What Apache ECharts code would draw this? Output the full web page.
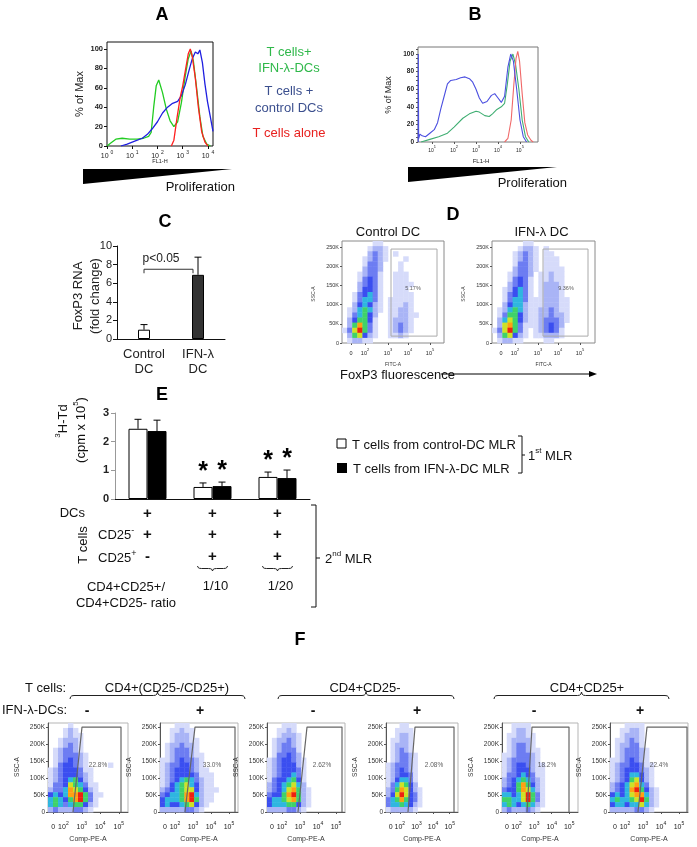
<!DOCTYPE html>
<html><head><meta charset="utf-8"><title>Figure</title>
<script src="https://cdn.jsdelivr.net/npm/echarts@6.0.0/dist/echarts.min.js"></script>
<style>html,body{margin:0;padding:0;background:#fff;}#chart{width:697px;height:847px;}</style>
</head><body><div id="chart"></div>
<script>
// ================= DATA =================
// Panel A: proliferation histograms (x = log10 FL1-H, y = % of max)
const aGreen = [[0,0],[0.15,3],[0.35,7],[0.6,8],[0.9,7],[1.2,7],[1.45,8],[1.65,10],[1.75,14],[1.85,40],[1.95,62],[2.05,68],[2.12,67],[2.2,55],[2.35,38],[2.5,26],[2.65,20],[2.8,25],[2.95,45],[3.1,72],[3.22,90],[3.33,98],[3.42,88],[3.55,60],[3.68,30],[3.8,10],[3.95,2],[4.1,0]];
const aBlue = [[0.55,0],[0.8,2],[1.1,5],[1.4,8],[1.6,12],[1.8,18],[2.0,25],[2.2,34],[2.4,40],[2.6,44],[2.8,46],[2.95,52],[3.1,63],[3.25,78],[3.38,90],[3.5,97],[3.6,95],[3.68,99],[3.78,86],[3.88,64],[3.98,46],[4.08,32],[4.2,15]];
const aRed = [[2.55,0],[2.65,6],[2.78,30],[2.9,50],[3.0,62],[3.12,80],[3.22,95],[3.3,100],[3.38,92],[3.5,70],[3.62,40],[3.75,15],[3.88,4],[4.0,0]];
const aXTicks = [0,1,2,3,4];
const aYTicks = [0,20,40,60,80,100];
const aLegend = [['T cells+','IFN-λ-DCs'],['T cells +','control DCs'],['T cells alone']];

// Panel B histograms
const bBlue = [[0.37,0],[0.375,100],[0.39,4],[0.45,9],[0.55,7],[0.7,6],[0.9,10],[1.1,14],[1.25,22],[1.4,38],[1.55,52],[1.7,66],[1.85,70],[2.1,71],[2.3,73],[2.5,74],[2.7,72],[2.85,68],[3.0,60],[3.15,50],[3.3,44],[3.5,46],[3.7,53],[3.85,55],[4.0,50],[4.15,45],[4.3,52],[4.45,85],[4.58,100],[4.7,92],[4.85,60],[5.0,25],[5.15,6],[5.3,0]];
const bGreen = [[0.5,0],[0.9,3],[1.3,6],[1.7,10],[2.0,17],[2.4,27],[2.7,32],[3.0,35],[3.15,34],[3.4,30],[3.6,29],[3.75,32],[3.95,37],[4.15,40],[4.3,44],[4.42,65],[4.55,92],[4.68,100],[4.8,88],[4.95,60],[5.1,25],[5.25,6],[5.4,0]];
const bRed = [[4.3,0],[4.45,4],[4.6,25],[4.72,65],[4.82,95],[4.9,103],[4.98,92],[5.1,55],[5.22,22],[5.35,8],[5.5,2],[5.6,0]];
const bXTicks = [1,2,3,4,5];
const bYTicks = [0,20,40,60,80,100];

// Panel C: FoxP3 RNA fold change
const cCats = ['Control\nDC','IFN-λ\nDC'];
const cMean = [1.0, 6.9];
const cErr = [0.55, 1.9];
const cPLevel = 7.5;
const cPText = 'p<0.05';

// Panel D: FoxP3 flow plots (density levels 0-9, top row first; x = display units, y = SSC)
const dTitles = ['Control DC','IFN-λ DC'];
const dPct = ['5.17%','9.36%'];
const dPctPos = [[71,142000],[74,142000]];
const dGate = [[49,18000,95,245000],[51,18000,96,245000]];
const dXLabelPos = [9,23,46,66,88];
const dYTicks = [0,50000,100000,150000,200000,250000];
const dGrid1 = [
"00000011000000000000",
"00000122100000000000",
"00000232101000000000",
"00001232100010000000",
"00001332000100000000",
"00002332000100000000",
"00012331001110000000",
"00013431001110000000",
"00023431001111000000",
"00024431001110000000",
"00134531001111000000",
"00135531011111000000",
"00245421011121000000",
"01256521011221000000",
"01356420011221100000",
"02466410012221000000",
"02686310012321000000",
"13796310012321000000",
"02674210011210000000",
"01221100000000000000"];
const dGrid2 = [
"00000011000000000000",
"00000122101000000000",
"00001232101100000000",
"00001232101110000000",
"00001332101110000000",
"00002332101111000000",
"00012332011211000000",
"00013431011211000000",
"00023431012221000000",
"00124531012221000000",
"00134531012221000000",
"00135531112221100000",
"00245521112221100000",
"01256521122321100000",
"01366421122322100000",
"02576421123332100000",
"02786311123432000000",
"13796310123431000000",
"02674210112221000000",
"01221100001100000000"];

// Panel E: 3H-thymidine incorporation
const eGroups = ['DC+CD25-','DC+CD25-+CD25+ (1/10)','DC+CD25-+CD25+ (1/20)'];
const eCtrl = [2.45, 0.42, 0.77];
const eCtrlErr = [0.33, 0.14, 0.17];
const eIfn = [2.37, 0.45, 0.73];
const eIfnErr = [0.38, 0.14, 0.28];
const eStar = [0, 1, 1];
const eRowDCs = ['+','+','+'];
const eRowNeg = ['+','+','+'];
const eRowPos = ['-','+','+'];
const eRatio = ['','1/10','1/20'];
const eLegend = ['T cells from control-DC MLR','T cells from IFN-λ-DC MLR'];

// Panel F: CD25 flow plots
const fGroups = ['CD4+(CD25-/CD25+)','CD4+CD25-','CD4+CD25+'];
const fDC = ['-','+','-','+','-','+'];
const fPct = ['22.8%','33.0%','2.62%','2.08%','18.2%','22.4%'];
const fPctX = [50,52,55,48,45,49];
const fPctY = 138000;
const fGate = [[25,34,73],[25,35,75],[31,40,75],[22,29,68],[25,30,67],[28,37,77]]; // [bottom-left, top-left, right]
const fGateTop = 250000;
const fXLabelPos = [5,15,33,51,69];
const fYTicks = [0,50000,100000,150000,200000,250000];
const fGrids = [
["0000100000000000","0001210000000000","0001211000000000","0012221000000000","0012321000000000","0123321000000000","0123332100000000","0123432100000000","0134432100001000","1234443110000000","1234443210000000","1234564210000000","1334765311000000","2335876421000000","4545889631100000","5654689631000000","5653566421000000","2322233210000000"],
["0001110000000000","0011211000000000","0012221000000000","0012221100000000","0122322100000000","0123332100000000","0123332110000000","1123433210000000","1233443210000000","1234443211000000","1234444311100000","1234565321100000","1245675421100000","2345677421110000","3455689521100000","4555689621100000","4544567421000000","2222233210000000"],
["0001110000000000","0011210000000000","0012221000000000","0122321000000000","0123321000000000","0123331000000000","0133432000000000","1234432100000000","1234442100000000","1234443100000000","1234453100000000","1344564100000000","2345675200000000","2345786210000000","3446896210000000","4556786210000000","4555664210000000","2222332100000000"],
["0001100000000000","0011110000000000","0012210000000000","0112210000000000","0122210000000000","0123210000000000","0123321000000000","0123321000000000","1233321000000000","1234321000000000","1234431000000000","1245531000000000","1357642000000000","2368742100000000","2479743100000000","3568643100000000","3556542100000000","1222221000000000"],
["0011110000000000","0012210000000000","0112211000000000","0122221000000000","0123321000000000","0123321100000000","1123332100000000","1233332100000000","1234432110000000","1234442110000000","1334543110000000","2345653210000000","2346864210000000","3446875210000000","5545796310000000","6655796310000000","5654565210000000","2322232100000000"],
["0001111000000000","0011221000000000","0012221000000000","0112321000000000","0122331000000000","0123332100000000","0123332100000000","1123432100000000","1233443110000000","1234443210000000","1234554210000000","1234674210000000","2345785310000000","2345896421000000","4545788521000000","5655679621000000","4554557521000000","2222233210000000"]
];

// ================= LAYOUT / STYLE =================
const FONT = '"Liberation Sans", Arial, Helvetica, sans-serif';
const PAL = ['rgba(0,0,0,0)','#d6dbfa','#a9b4f6','#6d7df2','#3a4ef0','#2fb6e0','#3fd26a','#cde226','#ffa012','#ee2010'];
const grid = [], xAxis = [], yAxis = [], series = [];
function addGrid(g, xa, ya){
  const i = grid.length;
  grid.push(Object.assign({containLabel:false, show:false}, g));
  xAxis.push(Object.assign({gridIndex:i, splitLine:{show:false}}, xa));
  yAxis.push(Object.assign({gridIndex:i, splitLine:{show:false}}, ya));
  return i;
}
function supRich(b, s){
  return {
    b:{fontSize:b, fontFamily:FONT, color:'#222', lineHeight:b+3, verticalAlign:'bottom'},
    s:{fontSize:s, fontFamily:FONT, color:'#222', lineHeight:s+1, verticalAlign:'top'}
  };
}
function cellData(rows, W, H){
  const nr = rows.length, nc = rows[0].length, out = [];
  rows.forEach((row, i) => {
    const r = nr - 1 - i;
    for (let c = 0; c < nc; c++){
      const l = +row[c];
      if (l > 0) out.push([c*W/nc, r*H/nr, (c+1)*W/nc, (r+1)*H/nr, l]);
    }
  });
  return out;
}
function cellRender(params, api){
  const a = api.coord([api.value(0), api.value(1)]);
  const b = api.coord([api.value(2), api.value(3)]);
  return {type:'rect', shape:{x:a[0], y:b[1], width:b[0]-a[0]+0.4, height:a[1]-b[1]+0.4}, style:{fill:PAL[api.value(4)]}};
}
function errRender(offset){
  return function(params, api){
    const i = api.value(0), m = api.value(1), e = api.value(2), st = api.value(3);
    const b = api.coord([i, m]), t = api.coord([i, m+e]);
    const x = b[0] + offset;
    const ch = [
      {type:'line', shape:{x1:x, y1:b[1], x2:x, y2:t[1]}, style:{stroke:'#000', lineWidth:1}},
      {type:'line', shape:{x1:x-3.5, y1:t[1], x2:x+3.5, y2:t[1]}, style:{stroke:'#000', lineWidth:1}}
    ];
    if (st) ch.push({type:'text', x:x, y:t[1]-11, style:{text:'*', font:'bold 25px '+FONT, fill:'#000', align:'center', verticalAlign:'middle'}});
    return {type:'group', children:ch};
  };
}
function flowXFormatter(pos){
  return v => {
    const k = pos.findIndex(p => Math.abs(p - v) < 1e-6);
    if (k < 0) return '';
    return k === 0 ? '{b|0}' : '{b|10}{s|' + (k+1) + '}';
  };
}
const kFmt = v => v === 0 ? '0' : (v/1000) + 'K';

// ----- Panel A -----
const gA = addGrid({left:107, top:42, width:106, height:104, show:true, borderColor:'#111', borderWidth:1},
  {type:'value', min:0, max:4.2, axisLine:{show:false},
   axisTick:{show:true, customValues:aXTicks, length:3, lineStyle:{color:'#111'}},
   axisLabel:{customValues:aXTicks, margin:4, formatter:v => '{b|10 }{s|' + v + '}', rich:supRich(7,5)}},
  {type:'value', min:0, max:107.2, axisLine:{show:false},
   axisTick:{show:true, customValues:aYTicks, length:3, lineStyle:{color:'#111'}},
   axisLabel:{customValues:aYTicks, margin:4, fontSize:7.5, fontWeight:'bold', color:'#222', fontFamily:FONT}});
[['#22cc22',aGreen],['#1f1fe0',aBlue],['#ff1f1f',aRed]].forEach(([c,d]) => series.push({
  type:'line', xAxisIndex:gA, yAxisIndex:gA, data:d, showSymbol:false, symbol:'none', lineStyle:{color:c, width:1.3}, z:3}));

// ----- Panel B -----
const gB = addGrid({left:418, top:47, width:120, height:95, show:true, borderColor:'#777', borderWidth:1},
  {type:'value', min:0.36, max:5.82, axisLine:{show:false},
   axisTick:{show:true, customValues:bXTicks, length:2, lineStyle:{color:'#555'}},
   axisLabel:{customValues:bXTicks, margin:3, formatter:v => '{b|10}{s|' + v + '}', rich:supRich(5,4)}},
  {type:'value', min:0, max:108, axisLine:{show:false},
   axisTick:{show:true, customValues:[0,5,10,15,20,25,30,35,40,45,50,55,60,65,70,75,80,85,90,95,100,105], length:2, lineStyle:{color:'#555'}},
   axisLabel:{customValues:bYTicks, margin:4, fontSize:6.5, fontWeight:'bold', color:'#222', fontFamily:FONT}});
[['#3fae72',bGreen],['#f06868',bRed],['#4b4fe0',bBlue]].forEach(([c,d]) => series.push({
  type:'line', xAxisIndex:gB, yAxisIndex:gB, data:d, showSymbol:false, symbol:'none', lineStyle:{color:c, width:1.1}, z:3}));

// ----- Panel C -----
const gC = addGrid({left:117, top:246, width:108, height:93},
  {type:'category', data:cCats, axisLine:{show:true, lineStyle:{color:'#111', width:1}}, axisTick:{show:false},
   axisLabel:{interval:0, fontSize:13, lineHeight:15, margin:8, color:'#222', fontFamily:FONT}},
  {type:'value', min:0, max:10, interval:2, axisLine:{show:true, lineStyle:{color:'#111', width:1}},
   axisTick:{show:true, length:4, lineStyle:{color:'#111'}},
   axisLabel:{fontSize:11, margin:5, color:'#222', fontFamily:FONT}});
series.push({type:'bar', xAxisIndex:gC, yAxisIndex:gC, barWidth:12,
  data:cMean.map((v,i) => ({value:v, itemStyle:{color: i===0 ? '#ffffff' : '#333333', borderColor:'#000', borderWidth:1}})), z:2});
series.push({type:'custom', xAxisIndex:gC, yAxisIndex:gC, renderItem:errRender(0),
  data:cMean.map((v,i) => [i, v, cErr[i], 0]), encode:{x:0, y:1}, z:3});

// ----- Panel D -----
const dLeft = [342, 492], dW = [102, 103], dYMax = 266000;
[dGrid1, dGrid2].forEach((rows, k) => {
  const W = dW[k];
  const g = addGrid({left:dLeft[k], top:241, width:W, height:102, show:true, borderColor:'#8a8a8a', borderWidth:1},
    {type:'value', min:0, max:W, axisLine:{show:false},
     axisTick:{show:true, customValues:dXLabelPos, length:2, lineStyle:{color:'#555'}},
     axisLabel:{customValues:dXLabelPos, margin:5, formatter:flowXFormatter(dXLabelPos), rich:supRich(5.5,4)}},
    {type:'value', min:0, max:dYMax, axisLine:{show:false},
     axisTick:{show:true, customValues:dYTicks, length:2, lineStyle:{color:'#555'}},
     axisLabel:{customValues:dYTicks, margin:3, fontSize:5.5, color:'#333', fontFamily:FONT, formatter:kFmt}});
  series.push({type:'custom', xAxisIndex:g, yAxisIndex:g, renderItem:cellRender, data:cellData(rows, W, dYMax),
    encode:{x:[0,2], y:[1,3]}, silent:true, z:2});
  const gt = dGate[k];
  series.push({type:'line', xAxisIndex:g, yAxisIndex:g, symbol:'none', showSymbol:false,
    data:[[gt[0],gt[1]],[gt[2],gt[1]],[gt[2],gt[3]],[gt[0],gt[3]],[gt[0],gt[1]]],
    lineStyle:{color:'#aaaaaa', width:1}, z:4});
  series.push({type:'scatter', xAxisIndex:g, yAxisIndex:g, symbolSize:1, itemStyle:{color:'rgba(0,0,0,0)'},
    data:[dPctPos[k]], label:{show:true, position:'inside', formatter:() => dPct[k], fontSize:5.5, color:'#333', fontFamily:FONT}, z:5});
});

// ----- Panel E -----
const gE = addGrid({left:115, top:413, width:195, height:86},
  {type:'category', data:eGroups, axisLine:{show:true, lineStyle:{color:'#111', width:1}}, axisTick:{show:false}, axisLabel:{show:false}},
  {type:'value', min:0, max:3, interval:1, axisLine:{show:true, lineStyle:{color:'#999', width:1}},
   axisTick:{show:true, length:4, lineStyle:{color:'#999'}},
   axisLabel:{fontSize:11, fontWeight:'bold', margin:6, color:'#222', fontFamily:FONT}});
series.push({type:'bar', xAxisIndex:gE, yAxisIndex:gE, barWidth:19, barGap:'0%', data:eCtrl,
  itemStyle:{color:'#ffffff', borderColor:'#000', borderWidth:1}, z:2});
series.push({type:'bar', xAxisIndex:gE, yAxisIndex:gE, barWidth:19, barGap:'0%', data:eIfn,
  itemStyle:{color:'#000000', borderColor:'#000', borderWidth:1}, z:2});
series.push({type:'custom', xAxisIndex:gE, yAxisIndex:gE, renderItem:errRender(-9.5),
  data:eCtrl.map((v,i) => [i, v, eCtrlErr[i], eStar[i]]), encode:{x:0, y:1}, z:3});
series.push({type:'custom', xAxisIndex:gE, yAxisIndex:gE, renderItem:errRender(9.5),
  data:eIfn.map((v,i) => [i, v, eIfnErr[i], eStar[i]]), encode:{x:0, y:1}, z:3});

// ----- Panel F -----
const fLeft = [48,160,267,386,502,610], fW = [80,78,78,72,76,78], fYMax = 262000;
fGrids.forEach((rows, k) => {
  const W = fW[k], sc = W/78;
  const lp = fXLabelPos.map(p => +(p*sc).toFixed(2));
  const g = addGrid({left:fLeft[k], top:723, width:W, height:89, show:true, borderColor:'#b5b5b5', borderWidth:1},
    {type:'value', min:0, max:W, axisLine:{show:true, lineStyle:{color:'#555', width:1}},
     axisTick:{show:true, customValues:lp, length:2, lineStyle:{color:'#555'}},
     axisLabel:{customValues:lp, margin:9, formatter:flowXFormatter(lp), rich:supRich(7,5)}},
    {type:'value', min:0, max:fYMax, axisLine:{show:true, lineStyle:{color:'#555', width:1}},
     axisTick:{show:true, customValues:fYTicks, length:2, lineStyle:{color:'#555'}},
     axisLabel:{customValues:fYTicks, margin:3, fontSize:6.5, color:'#333', fontFamily:FONT, formatter:kFmt}});
  series.push({type:'custom', xAxisIndex:g, yAxisIndex:g, renderItem:cellRender, data:cellData(rows, W, fYMax),
    encode:{x:[0,2], y:[1,3]}, silent:true, z:2});
  const gt = fGate[k];
  series.push({type:'line', xAxisIndex:g, yAxisIndex:g, symbol:'none', showSymbol:false,
    data:[[gt[0],0],[gt[1],fGateTop],[gt[2],fGateTop],[gt[2],0]],
    lineStyle:{color:'#666666', width:1.2}, z:4});
  series.push({type:'scatter', xAxisIndex:g, yAxisIndex:g, symbolSize:1, itemStyle:{color:'rgba(0,0,0,0)'},
    data:[[fPctX[k], fPctY]], label:{show:true, position:'inside', formatter:() => fPct[k], fontSize:6.5, color:'#333', fontFamily:FONT}, z:5});
});

// ================= RENDER =================
const chart = echarts.init(document.getElementById('chart'), null, {renderer:'canvas'});
chart.setOption({backgroundColor:'#ffffff', animation:false, grid, xAxis, yAxis, series});

const G = [];
function txt(x, y, text, o){
  o = o || {};
  const st = {text, fill:o.color || '#111', font:(o.weight || 'normal') + ' ' + (o.size || 13) + 'px ' + FONT,
    align:o.align || 'center', verticalAlign:'middle'};
  if (o.rich) st.rich = o.rich;
  G.push({type:'text', x, y, rotation:o.rot || 0, z:100, style:st});
}
function richS(b, s, color){
  color = color || '#111';
  return {b:{fontSize:b, fontFamily:FONT, fill:color, lineHeight:b+3, verticalAlign:'bottom'},
          s:{fontSize:s, fontFamily:FONT, fill:color, lineHeight:s+1, verticalAlign:'top'}};
}
function pl(points, o){
  o = o || {};
  G.push({type:'polyline', z:100, shape:{points}, style:{stroke:o.stroke || '#222', fill:null, lineWidth:o.lw || 1}});
}
function brace(x0, x1, y, dir, h){
  const xc = (x0 + x1)/2, a = h*dir;
  pl([[x0,y],[x0+0.6,y+a*0.6],[x0+1.8,y+a*0.9],[x0+4,y+a],[xc-4,y+a],[xc-1.8,y+a*1.1],[xc-0.6,y+a*1.4],[xc,y+2*a],
      [xc+0.6,y+a*1.4],[xc+1.8,y+a*1.1],[xc+4,y+a],[x1-4,y+a],[x1-1.8,y+a*0.9],[x1-0.6,y+a*0.6],[x1,y]]);
}
const R90 = Math.PI/2;

// Panel letters
[['A',162,15],['B',475,15],['C',165,222],['D',453,215],['E',162,395],['F',300,640]].forEach(([t,x,y]) => txt(x, y, t, {weight:'bold', size:18, color:'#000'}));

// Panel A extras
const aCol = ['#2fb84a','#3b4f8e','#e8211f'];
txt(289, 52, aLegend[0][0], {color:aCol[0]}); txt(289, 68, aLegend[0][1], {color:aCol[0]});
txt(289, 91, aLegend[1][0], {color:aCol[1]}); txt(289, 108, aLegend[1][1], {color:aCol[1]});
txt(289, 133, aLegend[2][0], {color:aCol[2]});
txt(80, 94, '% of Max', {rot:R90, size:11, color:'#222'});
txt(160, 161, 'FL1-H', {size:5.5, color:'#222'});
G.push({type:'polygon', z:100, shape:{points:[[83,169],[232,169],[83,184]]}, style:{fill:'#000'}});
txt(235, 187, 'Proliferation', {align:'right', color:'#111'});

// Panel B extras
txt(389, 95, '% of Max', {rot:R90, size:9, color:'#222'});
txt(481, 161, 'FL1-H', {size:6, color:'#222'});
G.push({type:'polygon', z:100, shape:{points:[[408,167],[557,167],[408,182]]}, style:{fill:'#000'}});
txt(567, 183, 'Proliferation', {align:'right', color:'#111'});

// Panel C extras
txt(78, 296, 'FoxP3 RNA', {rot:R90, size:13, color:'#222'});
txt(95, 296, '(fold change)', {rot:R90, size:13, color:'#222'});
const pL = chart.convertToPixel({gridIndex:gC}, [0, cPLevel]);
const pR = chart.convertToPixel({gridIndex:gC}, [1, cPLevel]);
const bl = pL[0], br = pR[0] - 5, by = pL[1];
pl([[bl,by+4],[bl,by],[br,by],[br,by+4]], {stroke:'#333'});
txt(bl + 17, by - 11, cPText, {size:12, color:'#222'});

// Panel D extras
dTitles.forEach((t,k) => {
  const cx = dLeft[k] + dW[k]/2;
  txt(cx - 5 + k*3, 232, t, {size:13, color:'#111'});
  txt(dLeft[k] - 28, 294, 'SSC-A', {rot:R90, size:5, color:'#333'});
  txt(cx, 365, 'FITC-A', {size:5, color:'#333'});
});
txt(340, 375, 'FoxP3 fluorescence', {align:'left', size:13, color:'#111'});
G.push({type:'line', z:100, shape:{x1:441, y1:374, x2:592, y2:374}, style:{stroke:'#000', lineWidth:1}});
G.push({type:'polygon', z:100, shape:{points:[[597,374],[589,371],[589,377]]}, style:{fill:'#000'}});

// Panel E extras
txt(62, 421, '{s|3}{b|H-Td}', {rot:R90, rich:richS(13,8)});
txt(80, 430, '{b|(cpm x 10}{s|5}{b|)}', {rot:R90, rich:richS(13,8)});
const ex = eGroups.map((_, i) => chart.convertToPixel({xAxisIndex:gE}, i));
txt(85, 513, 'DCs', {align:'right', size:13});
txt(98, 534, '{b|CD25}{s|-}', {align:'left', rich:richS(13,9)});
txt(98, 557, '{b|CD25}{s|+}', {align:'left', rich:richS(13,9)});
txt(83, 545, 'T cells', {rot:R90, size:13});
ex.forEach((x, i) => {
  txt(x, 514, eRowDCs[i], {weight:'bold', size:15});
  txt(x, 535, eRowNeg[i], {weight:'bold', size:15});
  txt(x, 557, eRowPos[i], {weight:'bold', size:15});
  if (eRatio[i]) { brace(x - 15, x + 15, 566, 1, 2.5); txt(x + 3, 586, eRatio[i], {size:13}); }
});
txt(126, 587, 'CD4+CD25+/', {size:13});
txt(126, 603, 'CD4+CD25- ratio', {size:13});
pl([[311,505],[316,505],[316,607],[311,607]], {stroke:'#111'});
pl([[316,558],[320,558]], {stroke:'#111'});
txt(325, 558, '{b|2}{s|nd}{b| MLR}', {align:'left', rich:richS(13,8)});
G.push({type:'rect', z:100, shape:{x:337, y:439, width:9, height:9}, style:{fill:'#fff', stroke:'#000', lineWidth:1}});
G.push({type:'rect', z:100, shape:{x:337, y:463, width:10, height:10}, style:{fill:'#000'}});
txt(352, 445, eLegend[0], {align:'left', size:13});
txt(353, 469, eLegend[1], {align:'left', size:13});
pl([[518,436],[522,436],[522,473],[518,473]], {stroke:'#111'});
pl([[522,455],[525,455]], {stroke:'#111'});
txt(528, 455, '{b|1}{s|st}{b| MLR}', {align:'left', rich:richS(13,8)});

// Panel F extras
txt(25, 688, 'T cells:', {align:'left', size:13});
txt(2, 710, 'IFN-λ-DCs:', {align:'left', size:13});
[[167,70,245],[365,278,454],[587,494,669]].forEach(([cx,x0,x1], i) => {
  txt(cx, 688, fGroups[i], {size:13});
  brace(x0, x1, 699, -1, 3.5);
});
const fDCx = [87,200,313,417,534,640];
fDC.forEach((s, i) => txt(fDCx[i], 711, s, {weight:'bold', size:14}));
fLeft.forEach((l, k) => {
  txt(l - 31, 767, 'SSC-A', {rot:R90, size:6.5, color:'#333'});
  txt(l + fW[k]/2, 839, 'Comp-PE-A', {size:7, color:'#333'});
});

chart.setOption({graphic:G});
</script></body></html>
